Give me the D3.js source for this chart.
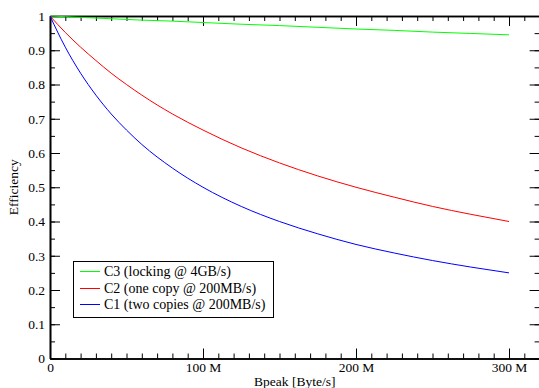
<!DOCTYPE html>
<html>
<head>
<meta charset="utf-8">
<script src="https://cdn.jsdelivr.net/npm/d3@7"></script>
<style>
  body { margin: 0; background: #fff; }
  svg { display: block; }
  text { font-family: "Liberation Serif", "Times New Roman", Times, "DejaVu Serif", serif; fill: #000; }
  .axis text { font-size: 13.5px; }
  .axis path, .axis line { stroke: #000; }
</style>
</head>
<body>
<svg width="539" height="388"></svg>
<script>
// bandwidth in MB/s (x), efficiency (y)
const bpeak = [0, 10, 20, 30, 40, 50, 60, 80, 100, 125, 150, 175, 200, 225, 250, 275, 300];
const c1 = [1, 0.909, 0.833, 0.769, 0.714, 0.667, 0.625, 0.556, 0.5, 0.444, 0.4, 0.364, 0.333, 0.308, 0.286, 0.267, 0.25];
const c2 = [1, 0.952, 0.909, 0.870, 0.833, 0.8, 0.769, 0.714, 0.667, 0.615, 0.571, 0.533, 0.5, 0.471, 0.444, 0.421, 0.4];
const c3 = [1, 0.998, 0.996, 0.994, 0.992, 0.990, 0.988, 0.985, 0.981, 0.976, 0.972, 0.967, 0.962, 0.958, 0.953, 0.949, 0.945];

const seriesNames = ["C3 (locking @ 4GB/s)", "C2 (one copy @ 200MB/s)", "C1 (two copies @ 200MB/s)"];
const seriesColors = ["#00ff00", "#ff0000", "#0000ff"];
const seriesValues = [c3, c2, c1];

const xTicks = [0, 100, 200, 300];
const yTicks = [0, 0.1, 0.2, 0.3, 0.4, 0.5, 0.6, 0.7, 0.8, 0.9, 1];

const mLeft = 50, mRight = 539.6, mTop = 16, mBottom = 358.5;

const svg = d3.select("svg");

const x = d3.scaleLinear().domain([0, 320]).range([mLeft, mRight]);
const y = d3.scaleLinear().domain([0, 1]).range([mBottom, mTop]);

const xMinor = d3.range(0, 321, 10);
const yMinor = d3.range(0, 1.0001, 0.05).map(d => +d.toFixed(2));

const xFmt = d => d === 0 ? "0" : d + " M";
const yFmt = d => String(+d.toFixed(1));

// minor ticks first
svg.append("g").attr("class", "axis")
  .attr("transform", `translate(0,${mBottom})`)
  .call(d3.axisBottom(x).tickValues(xMinor).tickSize(-5).tickSizeOuter(0).tickFormat(""));
svg.append("g").attr("class", "axis")
  .attr("transform", `translate(0,${mTop})`)
  .call(d3.axisTop(x).tickValues(xMinor).tickSize(-5).tickSizeOuter(0).tickFormat(""));
svg.append("g").attr("class", "axis")
  .attr("transform", `translate(${mLeft},0)`)
  .call(d3.axisLeft(y).tickValues(yMinor).tickSize(-5).tickSizeOuter(0).tickFormat(""));
svg.append("g").attr("class", "axis")
  .attr("transform", `translate(${mRight},0)`)
  .call(d3.axisRight(y).tickValues(yMinor).tickSize(-5).tickSizeOuter(0).tickFormat(""));

// major ticks
svg.append("g").attr("class", "axis")
  .attr("transform", `translate(0,${mBottom})`)
  .call(d3.axisBottom(x).tickValues(xTicks).tickSize(-10).tickSizeOuter(0).tickFormat(xFmt))
  .call(g => g.selectAll("text").attr("y", 4).attr("dy", "0.71em"));
svg.append("g").attr("class", "axis")
  .attr("transform", `translate(0,${mTop})`)
  .call(d3.axisTop(x).tickValues(xTicks).tickSize(-10).tickSizeOuter(0).tickFormat(""));
svg.append("g").attr("class", "axis")
  .attr("transform", `translate(${mLeft},0)`)
  .call(d3.axisLeft(y).tickValues(yTicks).tickSize(-10).tickSizeOuter(0).tickFormat(yFmt))
  .call(g => g.selectAll("text").attr("x", -5));
svg.append("g").attr("class", "axis")
  .attr("transform", `translate(${mRight},0)`)
  .call(d3.axisRight(y).tickValues(yTicks).tickSize(-10).tickSizeOuter(0).tickFormat(""));

svg.selectAll(".axis").attr("font-family", null);
svg.selectAll(".axis path.domain").attr("stroke-width", 1.6);

// curves
const line = d3.line()
  .x((d, i) => x(bpeak[i]))
  .y(d => y(d))
  .curve(d3.curveMonotoneX);

svg.selectAll(".curve")
  .data(seriesValues)
  .enter()
  .append("path")
  .attr("class", "curve")
  .attr("fill", "none")
  .attr("stroke", (d, i) => seriesColors[i])
  .attr("stroke-width", 1)
  .attr("d", line);

// axis titles
svg.append("text")
  .attr("x", (mLeft + mRight) / 2)
  .attr("y", 386)
  .attr("text-anchor", "middle")
  .attr("font-size", 13.5)
  .text("Bpeak [Byte/s]");

svg.append("text")
  .attr("transform", `translate(18,${(mTop + mBottom) / 2}) rotate(-90)`)
  .attr("text-anchor", "middle")
  .attr("font-size", 13.5)
  .text("Efficiency");

// legend
const legend = svg.append("g");
legend.append("rect")
  .attr("x", 73.5).attr("y", 261.5)
  .attr("width", 200).attr("height", 56)
  .attr("fill", "#fff").attr("stroke", "#000").attr("stroke-width", 1);

const rows = legend.selectAll(".row")
  .data(seriesNames)
  .enter()
  .append("g")
  .attr("transform", (d, i) => `translate(0,${Math.round(271 + i * 16.5) + 0.5})`);
rows.append("line")
  .attr("x1", 80).attr("x2", 100)
  .attr("stroke", (d, i) => seriesColors[i]).attr("stroke-width", 1);
rows.append("text")
  .attr("x", 104).attr("dy", "0.35em")
  .attr("font-size", 14)
  .text(d => d);
</script>
</body>
</html>
